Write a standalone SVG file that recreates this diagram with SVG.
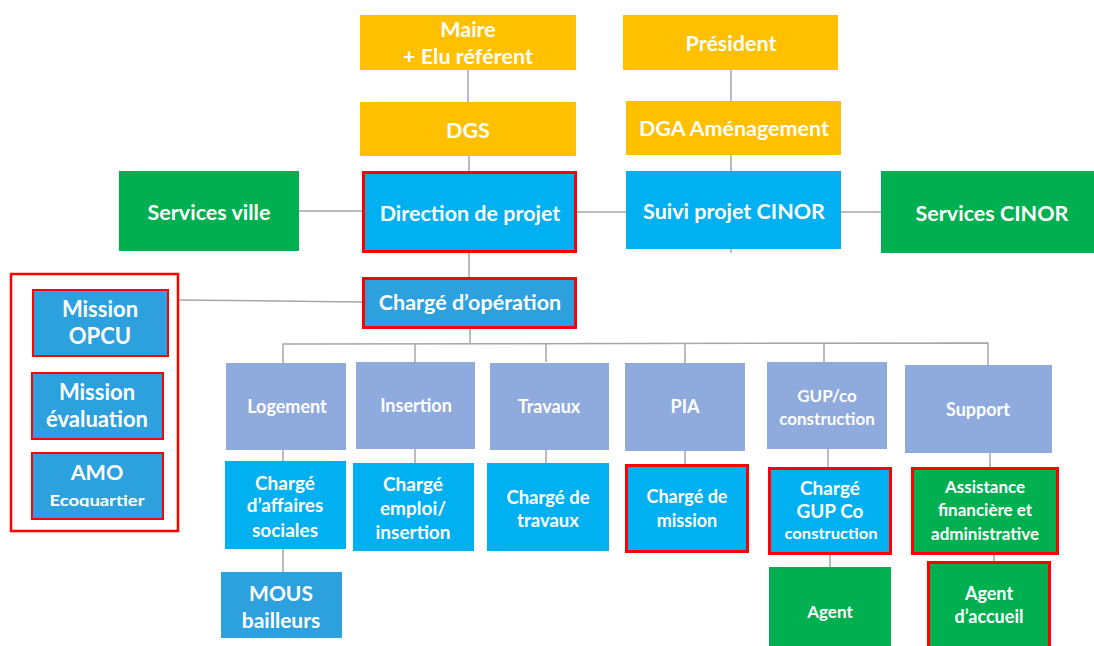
<svg xmlns="http://www.w3.org/2000/svg" width="1094" height="646" viewBox="0 0 1094 646">
<style>
.y{fill:#FFC000}.b{fill:#00B0F0}.g{fill:#00B050}.l{fill:#8FAADC}.m{fill:#2CA1DE}
.r{stroke:#FF0000;stroke-width:3}.r2{stroke:#FF0000;stroke-width:2}
text{font-family:Lato,"Open Sans","Liberation Sans",sans-serif;font-weight:bold;fill:#fff;text-anchor:middle}
.c line,.c polyline{stroke:#A6A6A6;stroke-width:1.5;fill:none}
</style>
<defs><clipPath id="amoclip"><rect x="32" y="453" width="131" height="54"/></clipPath></defs>
<rect width="1094" height="646" fill="#fff"/>
<g class="c">
<line x1="468" y1="70" x2="468" y2="102"/>
<line x1="469" y1="156" x2="469" y2="172"/>
<line x1="469" y1="252" x2="469" y2="278"/>
<line x1="731" y1="70" x2="731" y2="101"/>
<line x1="731" y1="155" x2="731" y2="171"/>
<line x1="731" y1="249" x2="731" y2="253"/>
<line x1="299" y1="211" x2="362" y2="211"/>
<line x1="577" y1="212" x2="626" y2="212"/>
<line x1="841" y1="212" x2="881" y2="212"/>
<line x1="179" y1="300" x2="362" y2="302"/>
<line x1="470" y1="329" x2="470" y2="344"/>
<polyline points="283,363 283,344 988,343 988,365"/>
<line x1="415" y1="344" x2="415" y2="362"/>
<line x1="546" y1="344" x2="546" y2="362"/>
<line x1="685" y1="344" x2="685" y2="363"/>
<line x1="824" y1="343" x2="824" y2="362"/>
<line x1="283" y1="450" x2="283" y2="461"/>
<line x1="415" y1="449" x2="415" y2="463"/>
<line x1="546" y1="450" x2="546" y2="463"/>
<line x1="685" y1="451" x2="685" y2="464"/>
<line x1="828" y1="449" x2="828" y2="467"/>
<line x1="830" y1="555" x2="830" y2="567"/>
<line x1="990" y1="453" x2="990" y2="467"/>
<line x1="994" y1="555" x2="994" y2="561"/>
<line x1="283" y1="549" x2="283" y2="572"/>
</g>
<g id="maire"><rect class="y" x="360" y="15" width="216" height="55"/><text x="468" y="37" font-size="21.5">Maire</text><text x="468" y="64" font-size="21.5">+ Elu référent</text></g>
<g id="president"><rect class="y" x="623" y="15" width="215" height="55"/><text x="731" y="51" font-size="21.5">Président</text></g>
<g id="dgs"><rect class="y" x="360" y="102" width="216" height="54"/><text x="468" y="138" font-size="21.5">DGS</text></g>
<g id="dga"><rect class="y" x="626" y="101" width="215" height="54"/><text x="734" y="136" font-size="21.5">DGA Aménagement</text></g>
<g id="services-ville"><rect class="g" x="119" y="171" width="180" height="80"/><text x="209" y="220" font-size="21.5">Services ville</text></g>
<g id="direction"><rect class="b r" x="363.5" y="172.5" width="212" height="79"/><text x="470" y="221" font-size="21.5">Direction de projet</text></g>
<g id="suivi"><rect class="b" x="626" y="171" width="215" height="78"/><text x="734" y="219" font-size="21.5">Suivi projet CINOR</text></g>
<g id="services-cinor"><rect class="g" x="881" y="171" width="213" height="82"/><text x="992" y="221" font-size="21.5">Services CINOR</text></g>
<g id="charge-operation"><rect class="m r" x="363.5" y="278.5" width="212" height="49"/><text x="470" y="310" font-size="21.5">Chargé d’opération</text></g>
<g id="missions-group"><rect x="11" y="274" width="167" height="257" fill="none" stroke="#FF0000" stroke-width="2.5"/></g>
<g id="mission-opcu"><rect class="m r2" x="33" y="290" width="135" height="66"/><text x="100" y="317" font-size="22">Mission</text><text x="100" y="344" font-size="22">OPCU</text></g>
<g id="mission-evaluation"><rect class="m r2" x="32" y="373" width="131" height="66"/><text x="97" y="400" font-size="22">Mission</text><text x="97" y="427" font-size="22">évaluation</text></g>
<g id="amo"><rect class="m r2" x="32" y="453" width="131" height="66"/><text x="97" y="480" font-size="21.5">AMO</text><text x="97" y="506" font-size="15" textLength="95" lengthAdjust="spacingAndGlyphs" clip-path="url(#amoclip)">Ecoquartier</text></g>
<g id="logement"><rect class="l" x="226" y="363" width="120" height="87"/><text x="287" y="413" font-size="18">Logement</text></g>
<g id="insertion"><rect class="l" x="356" y="362" width="119" height="87"/><text x="416" y="412" font-size="18">Insertion</text></g>
<g id="travaux"><rect class="l" x="490" y="363" width="119" height="87"/><text x="549" y="413" font-size="18">Travaux</text></g>
<g id="pia"><rect class="l" x="625" y="363" width="120" height="88"/><text x="685" y="413" font-size="18">PIA</text></g>
<g id="gup"><rect class="l" x="767" y="362" width="120" height="87"/><text x="827" y="402" font-size="17">GUP/co</text><text x="827" y="425" font-size="17">construction</text></g>
<g id="support"><rect class="l" x="905" y="365" width="147" height="88"/><text x="978" y="416" font-size="18">Support</text></g>
<g id="charge-affaires"><rect class="b" x="225" y="461" width="121" height="88"/><text x="285" y="490" font-size="19">Chargé</text><text x="285" y="512" font-size="19">d’affaires</text><text x="285" y="537" font-size="19">sociales</text></g>
<g id="charge-emploi"><rect class="b" x="353" y="463" width="121" height="88"/><text x="413" y="491" font-size="19">Chargé</text><text x="413" y="515" font-size="19">emploi/</text><text x="413" y="539" font-size="19">insertion</text></g>
<g id="charge-travaux"><rect class="b" x="487" y="463" width="122" height="88"/><text x="548" y="504" font-size="18.5">Chargé de</text><text x="548" y="527" font-size="18.5">travaux</text></g>
<g id="charge-mission"><rect class="b r" x="626.5" y="465.5" width="121" height="86"/><text x="687" y="503" font-size="18">Chargé de</text><text x="687" y="527" font-size="18">mission</text></g>
<g id="charge-gup"><rect class="b r" x="769.5" y="468.5" width="121" height="85"/><text x="830" y="495" font-size="19">Chargé</text><text x="830" y="518" font-size="19">GUP Co</text><text x="831" y="539" font-size="15" textLength="93" lengthAdjust="spacingAndGlyphs">construction</text></g>
<g id="assistance"><rect class="g r" x="912.5" y="468.5" width="145" height="85"/><text x="985" y="493" font-size="17">Assistance</text><text x="985" y="516" font-size="17">financière et</text><text x="985" y="540" font-size="17">administrative</text></g>
<g id="mous"><rect class="m" x="221" y="572" width="121" height="66"/><text x="281" y="601" font-size="21">MOUS</text><text x="281" y="628" font-size="21">bailleurs</text></g>
<g id="agent"><rect class="g" x="769" y="567" width="122" height="82"/><text x="830" y="618" font-size="17">Agent</text></g>
<g id="agent-accueil"><rect class="g r" x="928.5" y="562.5" width="121" height="88"/><text x="989" y="600" font-size="18">Agent</text><text x="989" y="623" font-size="18">d’accueil</text></g>
</svg>
